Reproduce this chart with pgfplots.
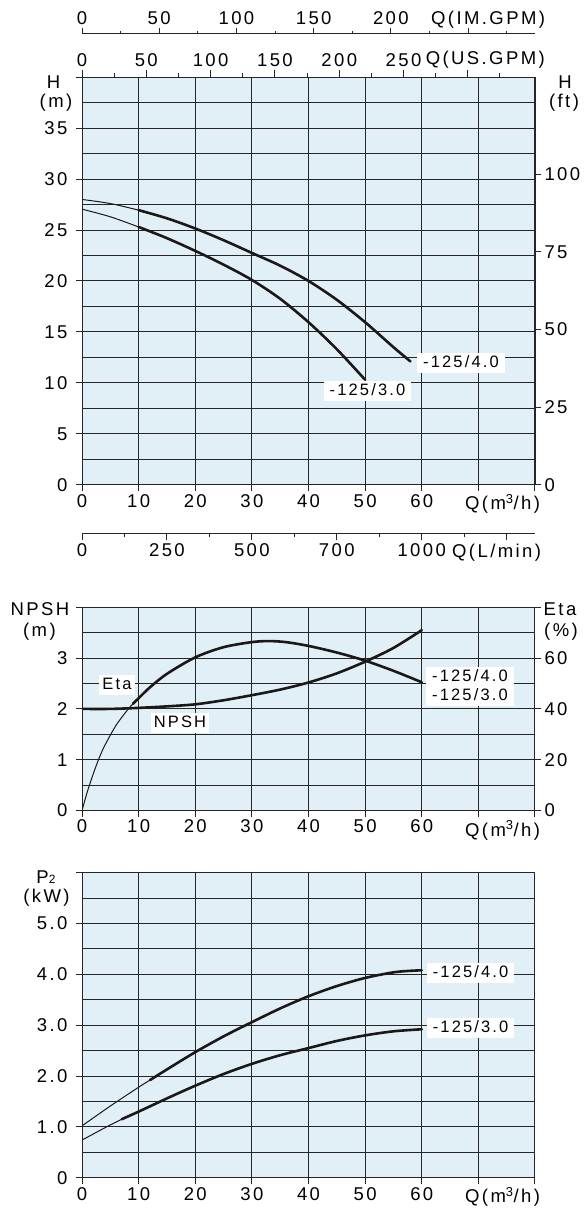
\documentclass[border=0pt]{standalone}
\usepackage{pgfplots}
\pgfplotsset{compat=1.18}
\usepackage{fontspec}
\setmainfont{Liberation Sans}[LetterSpace=13]

\definecolor{bgblue}{RGB}{225,239,246}
\definecolor{gridc}{RGB}{38,38,38}
\definecolor{crv}{RGB}{28,24,24}

\newcommand{\lbl}{\fontsize{18.5}{20}\selectfont}
\newcommand{\sml}{\fontsize{16.5}{19.4}\selectfont}

\pgfplotsset{
  base/.style={scale only axis, width=453pt, xmin=0, xmax=80, enlargelimits=false,
    anchor=south west, tick align=outside, major tick length=6pt, minor tick length=0pt,
    axis line style={-, draw=gridc, line width=1pt},
    tick style={gridc, line width=1pt},
    ticklabel style={font=\lbl},
    /pgf/number format/assume math mode=true},
  gridaxis/.style={base, axis background/.style={fill=bgblue},
    grid=both, major grid style={draw=gridc, line width=1pt},
    minor grid style={draw=gridc, line width=1pt},
    xtick={0,10,...,80}, xticklabels={0,10,20,30,40,50,60,,},
    xtick pos=left, ytick pos=left, yticklabel style={anchor=east, xshift=-5pt}},
  rightaxis/.style={base, axis y line*=right, axis x line=none,
    yticklabel style={anchor=west, xshift=0pt}},
  thinc/.style={crv, line width=1pt, smooth},
  thickc/.style={crv, line width=2.6pt, smooth, line cap=round},
}

\begin{document}
\begin{tikzpicture}
\path[use as bounding box] (0pt,0pt) rectangle (587pt,-1209pt);

% ---------- head curves H(Q)
\begin{axis}[gridaxis, at={(82pt,-484.7pt)}, height=407.5pt, ymin=0, ymax=40,
  ytick={0,5,...,40}, yticklabels={0,5,10,15,20,25,30,35,},
  minor ytick={2.5,7.5,...,37.5}]
% -125/4.0
\addplot[thinc] coordinates {(0,28.0) (5,27.6) (10,26.95)};
\addplot[thickc] coordinates {(10,26.95) (15,26.15) (20,25.15) (25,24.0) (30,22.75)
  (35,21.5) (40,20.0) (45,18.15) (50,15.95) (55,13.5) (58,12.1)};
% -125/3.0
\addplot[thinc] coordinates {(0,27.05) (5,26.3) (10,25.3)};
\addplot[thickc] coordinates {(10,25.3) (15,24.2) (20,22.95) (25,21.6) (30,20.1)
  (35,18.25) (40,15.95) (45,13.3) (50,10.3)};
\end{axis}

\begin{axis}[rightaxis, at={(82pt,-484.7pt)}, height=407.5pt, ymin=0, ymax=131.234,
  ytick={0,25,...,100}, yticklabels={0,25,50,75,100}]
\end{axis}

% US.GPM scale on top border
\begin{axis}[base, at={(82pt,-484.7pt)}, height=407.5pt, axis x line*=top, axis y line=none,
  xmin=0, xmax=352.229, ymin=0, ymax=1,
  xtick={0,50,...,300}, xticklabels={0,50,100,150,200,250,},
  minor xtick={25,75,...,325}, major tick length=7pt, minor tick length=4pt]
\end{axis}

% IM.GPM scale
\begin{axis}[base, anchor=north west, at={(82pt,-33.3pt)}, height=20pt,
  axis x line*=top, axis y line=none,
  xmin=0, xmax=293.30, ymin=0, ymax=1,
  xtick={0,50,...,250}, xticklabels={0,50,100,150,200,},
  minor xtick={25,75,...,275}, major tick length=5pt, minor tick length=2.5pt]
\end{axis}

% L/min scale
\begin{axis}[base, at={(82pt,-533.3pt)}, height=20pt,
  axis x line*=bottom, axis y line=none,
  xmin=0, xmax=1333.33, ymin=0, ymax=1,
  xtick={0,250,...,1250}, xticklabels={0,250,500,700,1000,},
  minor xtick={125,375,...,1125}, major tick length=7pt, minor tick length=4pt]
\end{axis}

% ---------- NPSH / Eta
\begin{axis}[gridaxis, at={(82pt,-810.5pt)}, height=203.2pt, ymin=0, ymax=4,
  ytick={0,1,2,3,4}, yticklabels={0,1,2,3,}, minor ytick={0.5,1.5,2.5,3.5}]
\addplot[thickc] coordinates {(0,2.0) (5,2.0) (10,2.02) (15,2.05) (20,2.09) (25,2.17)
  (30,2.27) (35,2.38) (40,2.52) (45,2.7) (50,2.93) (55,3.2) (60,3.55)};
\end{axis}

\begin{axis}[rightaxis, at={(82pt,-810.5pt)}, height=203.2pt, ymin=0, ymax=80,
  ytick={0,20,...,80}, yticklabels={0,20,40,60,}]
\addplot[thinc] coordinates {(0,0) (1,7.8) (2,14.5) (3,20.5) (4,25.5) (6,33.5)
  (8,39.5) (9,42)};
\addplot[thickc] coordinates {(9,42) (10,44.2) (12,48.5) (15,53.8) (20,60.3) (25,64.3)
  (30,66.3) (33,66.7) (36,66.3) (40,64.8) (45,62.2) (50,59) (55,55) (60,50.5)};
\end{axis}

% ---------- P2
\begin{axis}[gridaxis, at={(82pt,-1177.7pt)}, height=305pt, ymin=0, ymax=6,
  ytick={0,1,...,6}, yticklabels={0,1.0,2.0,3.0,4.0,5.0,},
  minor ytick={0.5,1.5,...,5.5}]
% -125/4.0
\addplot[thinc] coordinates {(0,1.02) (5,1.41) (10,1.78) (12,1.92)};
\addplot[thickc] coordinates {(12,1.92) (15,2.13) (20,2.47) (25,2.78) (30,3.06) (35,3.33)
  (40,3.57) (45,3.77) (50,3.93) (55,4.04) (58,4.07) (60,4.08)};
% -125/3.0
\addplot[thinc] coordinates {(0,0.74) (4,0.98) (7,1.15)};
\addplot[thickc] coordinates {(7,1.15) (10,1.3) (15,1.56) (20,1.81) (25,2.04) (30,2.24)
  (35,2.41) (40,2.55) (45,2.69) (50,2.8) (55,2.88) (60,2.92)};
\end{axis}

% ---------- texts
\begin{scope}[every node/.style={font=\lbl, inner sep=0pt}]
\node at (53.5pt,-82pt) {H};
\node at (56pt,-103pt) {(m)};
\node at (565pt,-82pt) {H};
\node at (564pt,-103pt) {(ft)};
\node[anchor=west] at (431pt,-19.5pt) {Q(IM.GPM)};
\node[anchor=west] at (425.6pt,-60pt) {Q(US.GPM)};
\node[anchor=west] at (465pt,-504pt) {Q(m\textsuperscript{3}/h)};
\node[anchor=west] at (452pt,-553pt) {Q(L/min)};
\node at (40pt,-609pt) {NPSH};
\node at (39.4pt,-632pt) {(m)};
\node at (560pt,-609pt) {Eta};
\node at (561pt,-632pt) {(\%)};
\node[anchor=west] at (465pt,-830.5pt) {Q(m\textsuperscript{3}/h)};
\node at (46pt,-877pt) {P{\fontsize{12}{12}\selectfont 2}};
\node at (46.5pt,-898pt) {(kW)};
\node[anchor=west] at (465pt,-1197pt) {Q(m\textsuperscript{3}/h)};
\end{scope}

\begin{scope}[every node/.style={font=\sml, fill=white, inner xsep=6pt, inner ysep=2.5pt,
  text height=12pt, text depth=3pt}]
\node at (461pt,-363pt) {-125/4.0};
\node at (367.5pt,-390.5pt) {-125/3.0};
\node[inner xsep=3pt] at (117pt,-684.5pt) {Eta};
\node[inner xsep=3pt] at (180pt,-723pt) {NPSH};
\node[align=center, text height=31pt] at (470pt,-686.5pt) {-125/4.0\\-125/3.0};
\node at (470.6pt,-972.5pt) {-125/4.0};
\node at (470.6pt,-1028.3pt) {-125/3.0};
\end{scope}
\end{tikzpicture}
\end{document}
